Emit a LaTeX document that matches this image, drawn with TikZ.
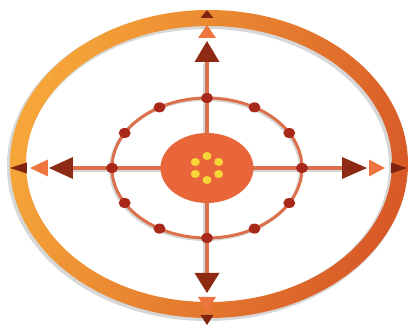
\documentclass[tikz,border=0pt]{standalone}
\usetikzlibrary{shapes.geometric}

\definecolor{ringlight}{HTML}{F6A639}
\definecolor{ringdark}{HTML}{D85A27}
\definecolor{spoke}{HTML}{DA714C}
\definecolor{beadred}{HTML}{A8281A}
\definecolor{hubfill}{HTML}{E8663A}
\definecolor{seed}{HTML}{F8D838}
\definecolor{tridark}{HTML}{8E2A12}
\definecolor{trimid}{HTML}{EE7440}
\definecolor{trismall}{HTML}{7E2410}

%% one triangle pointing along a direction: angle, base, tip, half width, colour
\newcommand{\dirtri}[5]{%
    \fill[#5, rotate=#1] (#2,-#4) -- (#3,0) -- (#2,#4) -- cycle;}

\begin{document}
\begin{tikzpicture}[
        x=1pt, y=1pt,
        axis/.style={line width=4pt, spoke},
        orbit/.style={draw=spoke, line width=3pt},
        bead/.style={ellipse, fill=beadred, inner sep=0pt,
                     minimum width=12pt, minimum height=10pt},
        hub/.style={ellipse, fill=hubfill, inner sep=0pt,
                    minimum width=93pt, minimum height=70pt},
        seeddot/.style={ellipse, fill=seed, inner sep=0pt,
                        minimum width=9pt, minimum height=8pt}
    ]
    \useasboundingbox (-207,-160) rectangle (205,168);

    %% ---- outer ring with its shadow ----
    \fill[black!45, opacity=.35, even odd rule]
        (0,2) ellipse [x radius=200, y radius=155]
        (0,2) ellipse [x radius=182, y radius=137];
    \shade[left color=ringlight, right color=ringdark, shading angle=70,
           even odd rule]
        (2,4) ellipse [x radius=199, y radius=154]
        (2,4) ellipse [x radius=183, y radius=138];

    %% ---- cross of spokes ----
    \coordinate (n) at (0,106);
    \coordinate (s) at (0,-105);
    \coordinate (w) at (-134,0);
    \coordinate (e) at (136,0);
    \draw[axis, black!40, opacity=.4] ([shift={(-2,-1)}]n) -- ([shift={(-2,-1)}]s);
    \draw[axis, black!40, opacity=.4] ([shift={(-1,-2)}]w) -- ([shift={(-1,-2)}]e);
    \draw[axis] (n) -- (s);
    \draw[axis] (w) -- (e);

    %% ---- inner orbit and its beads ----
    \draw[orbit, black!40, opacity=.4] (-1.5,-1.5) ellipse [x radius=95, y radius=70];
    \draw[orbit] (0,0) ellipse [x radius=95, y radius=70];
    \foreach \a in {0,30,...,330}
        \node[bead] (b\a) at (\a:95 and 70) {};

    %% ---- hub with seeds ----
    \node[hub] (core) at (0,0) {};
    \foreach \a in {30,90,...,330}
        \node[seeddot] (y\a) at (\a:13.5 and 12) {};

    %% ---- triangles on the four axes ----
    \foreach \ang/\bl/\tl/\hl/\bm/\tm/\hm/\bs/\ts/\hs in {
            0/135/160/11/162/178/8.5/184/200/5.5,
            90/106/127/12.5/130/143/9/150/158/6.5,
            180/134/158/11/159/177/8.5/180/197/5.5,
            270/105/125/12.5/129/144/9/147/157/6.5} {
        \dirtri{\ang}{\bl}{\tl}{\hl}{tridark}
        \dirtri{\ang}{\bm}{\tm}{\hm}{trimid}
        \dirtri{\ang}{\bs}{\ts}{\hs}{trismall}
    }
\end{tikzpicture}
\end{document}
